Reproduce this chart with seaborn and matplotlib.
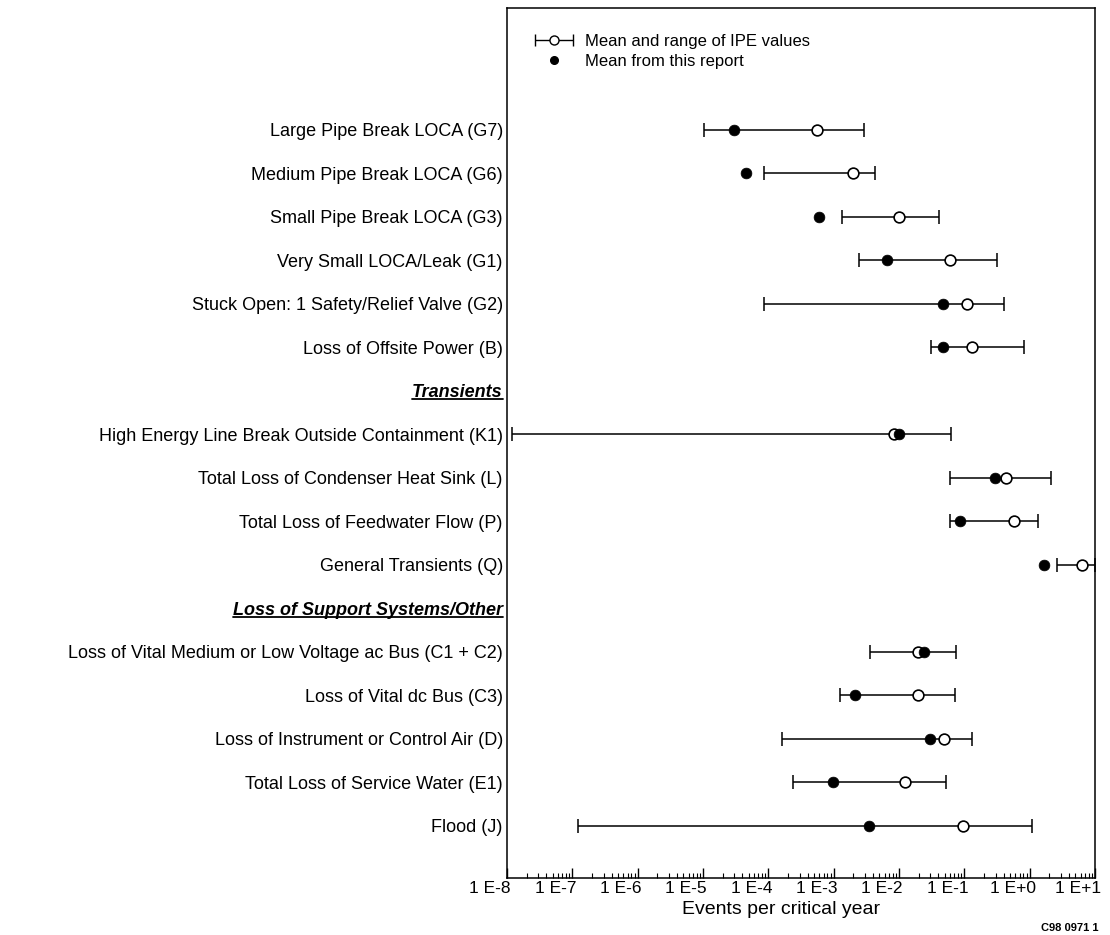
import numpy as np
import pandas as pd
import seaborn as sns
import matplotlib.pyplot as plt
import matplotlib.transforms as mtransforms
from matplotlib.lines import Line2D
from matplotlib.container import ErrorbarContainer
from matplotlib.legend_handler import HandlerErrorbar

# initiating events, top to bottom (two section headers have no data)
events = ["Large Pipe Break LOCA (G7)",
          "Medium Pipe Break LOCA (G6)",
          "Small Pipe Break LOCA (G3)",
          "Very Small LOCA/Leak (G1)",
          "Stuck Open: 1 Safety/Relief Valve (G2)",
          "Loss of Offsite Power (B)",
          "Transients",
          "High Energy Line Break Outside Containment (K1)",
          "Total Loss of Condenser Heat Sink (L)",
          "Total Loss of Feedwater Flow (P)",
          "General Transients (Q)",
          "Loss of Support Systems/Other",
          "Loss of Vital Medium or Low Voltage ac Bus (C1 + C2)",
          "Loss of Vital dc Bus (C3)",
          "Loss of Instrument or Control Air (D)",
          "Total Loss of Service Water (E1)",
          "Flood (J)"]
headers = ["Transients", "Loss of Support Systems/Other"]

nan = np.nan
ipe_low = [1.04e-5, 8.6e-5, 1.34e-3, 2.4e-3, 8.6e-5, 0.031, nan,
           1.2e-8, 0.060, 0.060, 2.6, nan,
           3.65e-3, 1.23e-3, 1.6e-4, 2.4e-4, 1.2e-7]
ipe_mean = [5.6e-4, 2.0e-3, 0.010, 0.060, 0.11, 0.13, nan,
            8.5e-3, 0.43, 0.58, 6.3, nan,
            0.0195, 0.0195, 0.049, 0.0122, 0.096]
ipe_high = [2.9e-3, 4.3e-3, 0.041, 0.32, 0.40, 0.83, nan,
            0.062, 2.1, 1.36, 10.0, nan,
            0.075, 0.073, 0.13, 0.052, 1.09]
report_mean = [3.0e-5, 4.5e-5, 6.0e-4, 6.6e-3, 0.047, 0.047, nan,
               0.0101, 0.29, 0.087, 1.64, nan,
               0.0238, 2.15e-3, 0.030, 9.7e-4, 3.5e-3]

x_ticks = [1e-8, 1e-7, 1e-6, 1e-5, 1e-4, 1e-3, 1e-2, 1e-1, 1e0, 1e1]
x_ticklabels = ["1 E-8", "1 E-7", "1 E-6", "1 E-5", "1 E-4", "1 E-3",
                "1 E-2", "1 E-1", "1 E+0", "1 E+1"]

sns.set_theme(style="white", rc={"text.color": "black", "axes.labelcolor": "black",
                                 "xtick.color": "black", "ytick.color": "black"})
plt.rcParams['font.family'] = ['Liberation Sans', 'DejaVu Sans']

df = pd.DataFrame({"event": events,
                   "pos": np.arange(len(events)),
                   "low": ipe_low,
                   "ipe": ipe_mean,
                   "high": ipe_high,
                   "report": report_mean})
rng = df.dropna(subset=["ipe"])

fig = plt.figure(figsize=(11.1, 9.35), dpi=100)
ax = fig.add_axes([507 / 1110, 1 - 878 / 935, 588 / 1110, 870 / 935])

# IPE ranges
ax.errorbar(rng["ipe"], rng["pos"],
            xerr=[rng["ipe"] - rng["low"], rng["high"] - rng["ipe"]],
            fmt="none", ecolor="black", elinewidth=1.1, capsize=5, capthick=1.1,
            zorder=2)
sns.scatterplot(data=rng, x="ipe", y="pos", ax=ax, marker="o", s=60,
                facecolor="white", edgecolor="black", linewidth=1.2, zorder=3)
sns.scatterplot(data=df, x="report", y="pos", ax=ax, marker="o", s=60,
                color="black", edgecolor="black", linewidth=0.5, zorder=4)

ax.set_xscale("log")
ax.set_xlim(1e-8, 1e1)
ax.set_ylim(len(events) - 1 + 1.2, -2.8)

ax.set_yticks(df["pos"])
ax.set_yticklabels(events, fontsize=13, color="black")
ax.tick_params(axis="y", left=False, length=0, pad=3)

ax.set_xticks(x_ticks)
ax.set_xticklabels(x_ticklabels, fontsize=12.5, color="black")
ax.xaxis.set_minor_locator(plt.matplotlib.ticker.LogLocator(base=10, subs=np.arange(2, 10), numticks=30))
ax.xaxis.set_minor_formatter(plt.matplotlib.ticker.NullFormatter())
ax.tick_params(axis="x", which="major", bottom=True, top=False, direction="in",
               length=7, width=1, color="black", pad=2)
ax.tick_params(axis="x", which="minor", bottom=True, top=False, direction="in",
               length=3.5, width=0.8, color="black")
shift = mtransforms.ScaledTranslation(-17 / 100, 0, fig.dpi_scale_trans)
for lab in ax.get_xticklabels():
    lab.set_transform(lab.get_transform() + shift)

ax.set_xlabel("Events per critical year", fontsize=14, color="black")
ax.xaxis.set_label_coords((781 - 507) / 588, -0.027)
ax.set_ylabel("")

for sp in ax.spines.values():
    sp.set_color("black")
    sp.set_linewidth(1.1)

for lab in ax.get_yticklabels():
    if lab.get_text() in headers:
        lab.set_fontweight("bold")
        lab.set_fontstyle("italic")

# legend
h1 = ax.errorbar([nan], [nan], xerr=[[1], [1]], fmt="o", color="black",
                 mfc="white", mec="black", ms=6.5, capsize=4, elinewidth=1,
                 label="Mean and range of IPE values")
h2 = Line2D([], [], marker="o", ls="none", color="black", ms=5.5,
            label="Mean from this report")
leg = ax.legend(handles=[h1, h2], loc="upper left", bbox_to_anchor=(0.046, 0.9705),
                frameon=False, fontsize=12, handlelength=2.4, handletextpad=0.65,
                labelspacing=0.3, borderpad=0, borderaxespad=0,
                handler_map={ErrorbarContainer: HandlerErrorbar(xerr_size=1.12)})
for t in leg.get_texts():
    t.set_color("black")

fig.text(0.99, 0.002, "C98 0971 1", ha="right", va="bottom", fontsize=8,
         fontweight="bold", color="black")

# underline the section headers
fig.canvas.draw()
inv = fig.transFigure.inverted()
for lab in ax.get_yticklabels():
    if lab.get_text() in headers:
        bb = lab.get_window_extent()
        (x0, y0), (x1, y1) = inv.transform([[bb.x0, bb.y0 + 2.2], [bb.x1, bb.y0 + 2.2]])
        fig.add_artist(Line2D([x0, x1], [y0, y1], color="black", lw=1.3,
                              transform=fig.transFigure))

fig.savefig("out.png", dpi=100)
